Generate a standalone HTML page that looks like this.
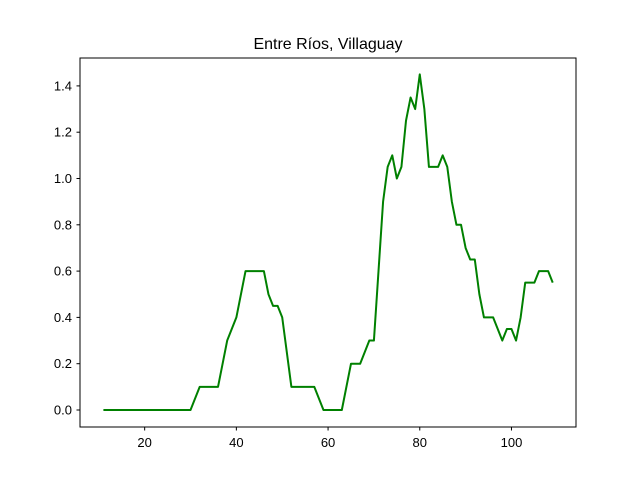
<!DOCTYPE html>
<html><head><meta charset="utf-8"><style>
body{margin:0;background:#fff}
svg{font-family:"Liberation Sans","DejaVu Sans",sans-serif}
</style></head><body>
<svg id="chart" width="640" height="480">
<rect width="640" height="480" fill="#fff"/>
<text x="328" y="49" font-size="16" text-anchor="middle">Entre Ríos, Villaguay</text>
<g id="xt"></g>
<g id="yt"></g>
<polyline id="line" fill="none" stroke="#008000" stroke-width="2" stroke-linejoin="round"/>
<rect x="80" y="58" width="496" height="369" fill="none" stroke="#000" stroke-width="1"/>
</svg>
<script>
const xs=[11,30,32,36,38,40,42,46,47,48,49,50,52,57,59,63,65,67,69,70,72,73,74,75,76,77,78,79,80,81,82,84,85,86,87,88,89,90,91,92,93,94,96,98,99,100,101,102,103,105,106,108,109];
const ys=[0,0,0.1,0.1,0.3,0.4,0.6,0.6,0.5,0.45,0.45,0.4,0.1,0.1,0,0,0.2,0.2,0.3,0.3,0.9,1.05,1.1,1.0,1.05,1.25,1.35,1.3,1.45,1.3,1.05,1.05,1.1,1.05,0.9,0.8,0.8,0.7,0.65,0.65,0.5,0.4,0.4,0.3,0.35,0.35,0.3,0.4,0.55,0.55,0.6,0.6,0.55];
const xTicks=[20,40,60,80,100];
const yTicks=[0.0,0.2,0.4,0.6,0.8,1.0,1.2,1.4];
const X=v=>103.4+(v-11)*4.585;
const Y=v=>410-v*231.5;
const NS='http://www.w3.org/2000/svg';
document.getElementById('line').setAttribute('points',xs.map((x,i)=>X(x)+','+Y(ys[i])).join(' '));
const xt=document.getElementById('xt'),yt=document.getElementById('yt');
xTicks.forEach(t=>{
 const l=document.createElementNS(NS,'line');
 l.setAttribute('x1',X(t));l.setAttribute('x2',X(t));l.setAttribute('y1',427);l.setAttribute('y2',430.5);l.setAttribute('stroke','#000');
 
 
 xt.appendChild(l);
 const s=document.createElementNS(NS,'text');
 s.setAttribute('x',X(t));s.setAttribute('y',447);s.setAttribute('font-size','13');s.setAttribute('text-anchor','middle');s.textContent=t;
 
 
 xt.appendChild(s);
});
yTicks.forEach(t=>{
 const l=document.createElementNS(NS,'line');
 l.setAttribute('x1',76.5);l.setAttribute('x2',80);l.setAttribute('y1',Y(t));l.setAttribute('y2',Y(t));l.setAttribute('stroke','#000');
 
 
 yt.appendChild(l);
 const s=document.createElementNS(NS,'text');
 s.setAttribute('x',72);s.setAttribute('y',Y(t)+4.5);s.setAttribute('font-size','13');s.setAttribute('text-anchor','end');s.textContent=t.toFixed(1);
 
 
 yt.appendChild(s);
});
</script>
</body></html>
